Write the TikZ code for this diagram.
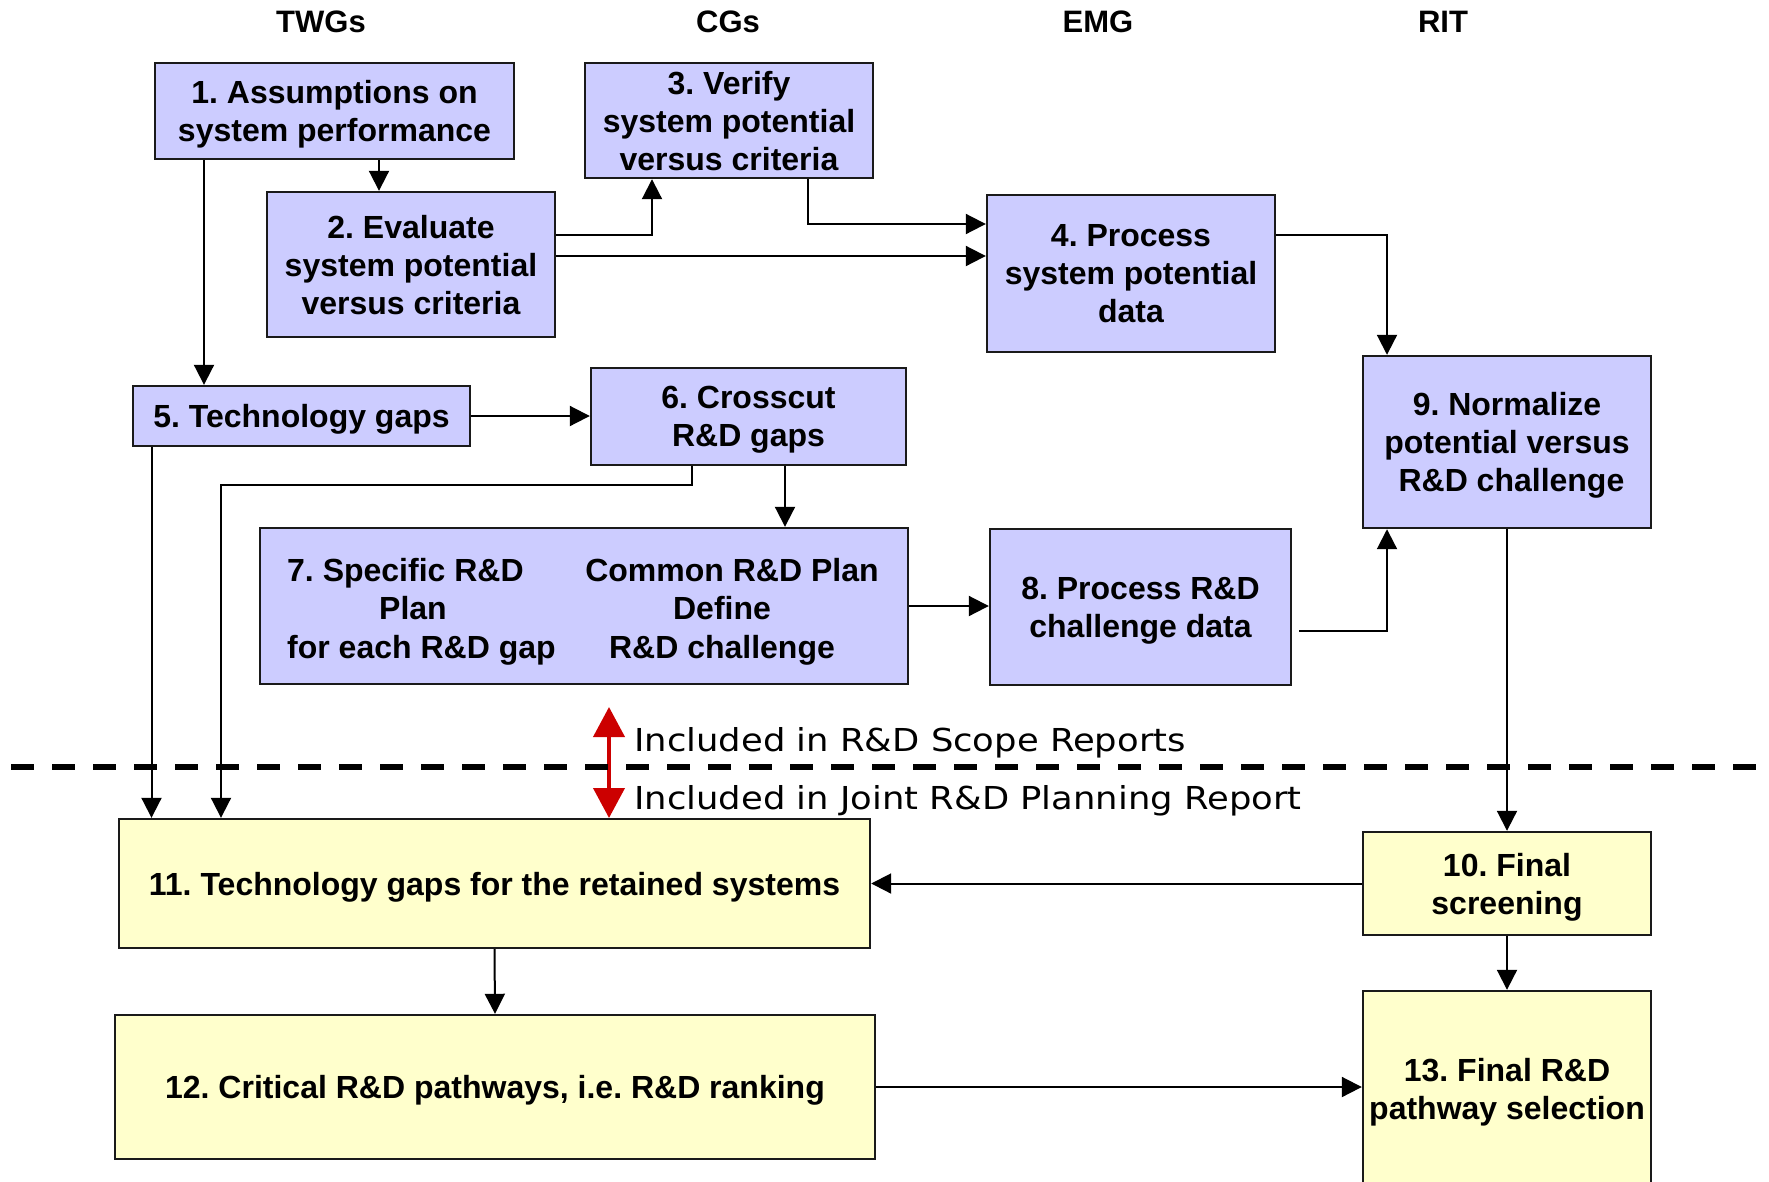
\documentclass[tikz,border=0pt]{standalone}
\usepackage{fontspec}
\setmainfont{Liberation Sans}
\newfontfamily\labfont{DejaVu Sans}[FakeStretch=1.12]
\usetikzlibrary{arrows.meta,calc}
\definecolor{lav}{HTML}{CCCCFF}
\definecolor{lyel}{HTML}{FFFFCC}
\definecolor{rarr}{HTML}{CC0000}
\definecolor{edge}{HTML}{1A1A1A}
\frenchspacing
\begin{document}
\begin{tikzpicture}[x=1pt,y=-1pt,
  box/.style={draw=edge, line width=2.4pt, inner sep=0pt, align=center, text depth=0pt,
    font=\fontsize{32}{38}\selectfont\bfseries},
  lbox/.style={box, fill=lav},
  ybox/.style={box, fill=lyel},
  head/.style={inner sep=0pt, font=\fontsize{31}{36}\selectfont\bfseries},
  coltext/.style={inner sep=0pt, text depth=0pt, font=\fontsize{32}{38.5}\selectfont\bfseries},
  lab/.style={inner sep=0pt, font=\labfont\fontsize{31.6}{36}\selectfont, anchor=base west},
  arr/.style={draw=black, line width=2pt, -{Triangle[length=20pt,width=20pt]}},
  redarr/.style={draw=rarr, line width=4pt, {Triangle[length=30pt,width=31pt]}-{Triangle[length=30pt,width=31pt]}}]
\useasboundingbox (0,0) rectangle (1769,1181);

% column headers
\node[head] (hT) at (321,22) {TWGs};
\node[head] (hC) at (728,22) {CGs};
\node[head] (hE) at (1098,22) {EMG};
\node[head] (hR) at (1443,22) {RIT};

% boxes
\node[lbox, minimum width=359pt, minimum height=96pt] (b1) at (334.5,111) {1. Assumptions on\\system performance};
\node[lbox, minimum width=288pt, minimum height=145pt] (b2) at (411,264.5) {2. Evaluate\\system potential\\versus criteria};
\node[lbox, minimum width=288pt, minimum height=115pt] (b3) at (729,120.5) {3. Verify\\system potential\\versus criteria};
\node[lbox, minimum width=288pt, minimum height=157pt] (b4) at (1131,273.5) {4. Process\\system potential\\data};
\node[lbox, minimum width=337pt, minimum height=60pt] (b5) at (301.5,416) {5. Technology gaps};
\node[lbox, minimum width=315pt, minimum height=97pt] (b6) at (748.5,416.5) {6. Crosscut\\R\&D gaps};
\node[lbox, minimum width=648pt, minimum height=156pt] (b7) at (584,606) {};
\node[coltext, anchor=west, align=left] (b7L) at (287,608) {7. Specific R\&D\\\hspace*{92pt}Plan\\for each R\&D gap};
\node[coltext, align=center] (b7R) at (722,608) {\hspace*{20pt}Common R\&D Plan\\Define\\R\&D challenge};
\node[lbox, minimum width=301pt, minimum height=156pt] (b8) at (1140.5,607) {8. Process R\&D\\challenge data};
\node[lbox, minimum width=288pt, minimum height=172pt] (b9) at (1507,442) {9. Normalize\\potential versus\\\mbox{ }R\&D challenge};
\node[ybox, minimum width=288pt, minimum height=103pt] (b10) at (1507,883.5) {10. Final\\screening};
\node[ybox, minimum width=751pt, minimum height=129pt] (b11) at (494.5,883.5) {11. Technology gaps for the retained systems};
\node[ybox, minimum width=760pt, minimum height=144pt] (b12) at (495,1087) {12. Critical R\&D pathways, i.e. R\&D ranking};
\node[ybox, minimum width=288pt, minimum height=196pt] (b13) at (1507,1089) {13. Final R\&D\\pathway selection};

% helper coordinates
\coordinate (cA) at (204,0);
\coordinate (c12) at (379,0);
\coordinate (cB) at (652,235);
\coordinate (cC) at (0,256);
\coordinate (cD) at (808,224);
\coordinate (cE) at (1387,235);
\coordinate (cG) at (151.5,0);
\coordinate (cH) at (692,485);
\coordinate (cI) at (221,485);
\coordinate (cJ) at (785,0);
\coordinate (cK) at (0,606);
\coordinate (cL) at (1387,631);

% connectors
\draw[arr] (b1.south -| c12) -- (b2.north -| c12);
\draw[arr] (b1.south -| cA) -- (b5.north -| cA);
\draw[arr] (b2.east |- cB) -- (cB) -- (b3.south -| cB);
\draw[arr] (b2.east |- cC) -- (b4.west |- cC);
\draw[arr] (b3.south -| cD) -- (cD) -- (b4.west |- cD);
\draw[arr] (b4.east |- cE) -- (cE) -- (b9.north -| cE);
\draw[arr] (b5.east) -- (b6.west |- b5.east);
\draw[arr] (b5.south -| cG) -- (b11.north -| cG);
\draw[arr] (b6.south -| cH) -- (cH) -- (cI) -- (b11.north -| cI);
\draw[arr] (b6.south -| cJ) -- (b7.north -| cJ);
\draw[arr] (b7.east |- cK) -- (b8.west |- cK);
\draw[arr] ($(b8.east |- cL)+(7,0)$) -- (cL) -- (b9.south -| cL);
\draw[arr] (b9.south) -- (b10.north);
\draw[arr] (b10.west) -- (b11.east |- b10.west);
\draw[arr] (b10.south) -- (b13.north);
\draw[arr] (b11.south) -- (b12.north);
\draw[arr] (b12.east) -- (b13.west |- b12.east);

% report boundary
\coordinate (rA) at (609,707);
\coordinate (rB) at (609,818);
\draw[redarr] (rA) -- (rB);
\coordinate (dL) at (11,767);
\coordinate (dR) at (1759,767);
\draw[line width=6pt, dash pattern=on 23pt off 18pt] (dL) -- (dR);
\node[lab] (lS) at (634,751) {Included in R\&D Scope Reports};
\node[lab] (lJ) at (634,809) {Included in Joint R\&D Planning Report};
\end{tikzpicture}
\end{document}
